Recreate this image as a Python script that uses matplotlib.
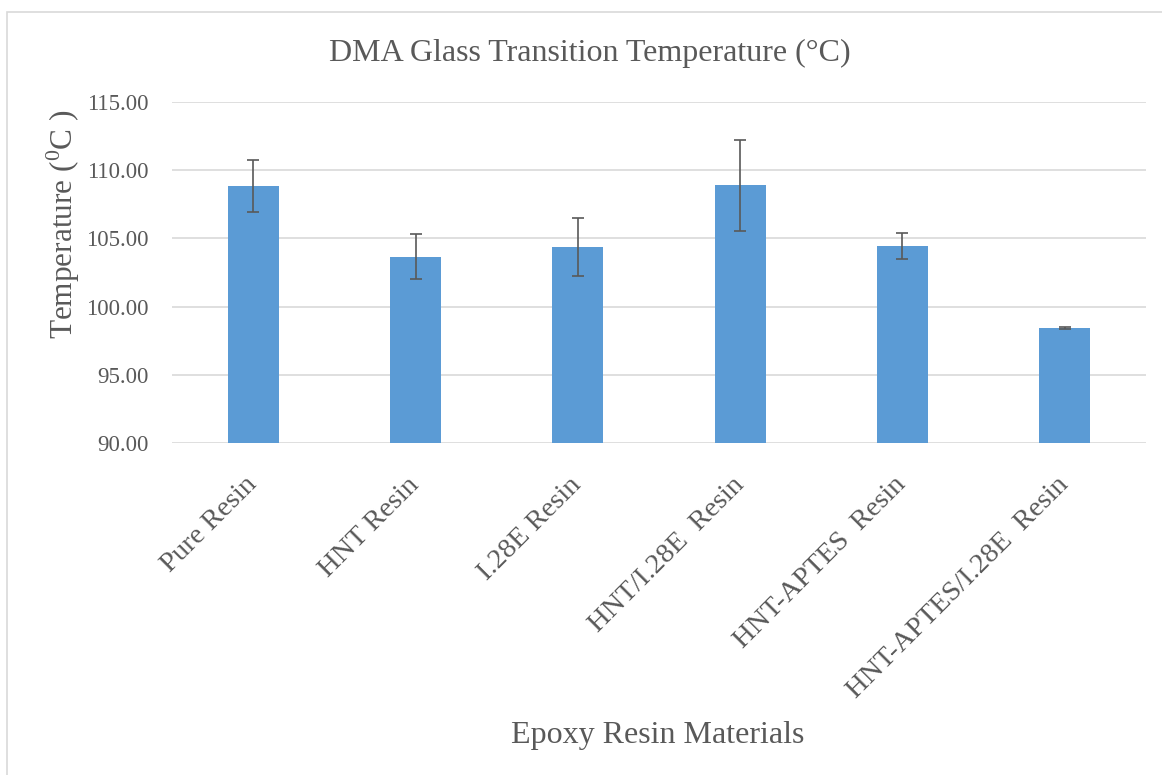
import matplotlib
matplotlib.use("Agg")
import matplotlib.pyplot as plt
from matplotlib.patches import Rectangle
from matplotlib.transforms import ScaledTranslation

categories = ["Pure Resin", "HNT Resin", "I.28E Resin", "HNT/I.28E  Resin",
              "HNT-APTES  Resin", "HNT-APTES/I.28E  Resin"]
tg_values = [108.83, 103.66, 104.37, 108.91, 104.43, 98.42]
tg_errors = [1.92, 1.64, 2.12, 3.34, 0.95, 0.07]
y_ticks = [90, 95, 100, 105, 110, 115]

plt.rcParams["font.family"] = ["Liberation Serif", "DejaVu Serif"]
plt.rcParams["mathtext.fontset"] = "custom"
plt.rcParams["mathtext.rm"] = "Liberation Serif"

W, H = 1162, 775
fig = plt.figure(figsize=(W / 100, H / 100), dpi=100)
fig.patch.set_facecolor("white")

# chart frame
fig.patches.append(Rectangle((7 / W, -0.1), 1.2, 1 - 12 / H + 0.1,
                             transform=fig.transFigure, fill=False,
                             edgecolor="#d9d9d9", linewidth=1.2))

left, right, top, bottom = 172, 1146, 102, 443
ax = fig.add_axes([left / W, 1 - bottom / H, (right - left) / W, (bottom - top) / H])

text_color = "#595959"
x = list(range(len(categories)))
ax.bar(x, tg_values, width=0.315, color="#5B9BD5", zorder=3)
ax.errorbar(x, tg_values, yerr=tg_errors, fmt="none", ecolor="#595959",
            elinewidth=1.2, capsize=4.5, capthick=1.2, zorder=4)

ax.set_xlim(-0.5, len(categories) - 0.5)
ax.set_ylim(90, 115)
ax.set_yticks(y_ticks)
ax.set_yticklabels([f"{v:.2f}" for v in y_ticks], fontsize=16.5, color=text_color)
ax.yaxis.grid(True, color="#d9d9d9", linewidth=1.2, zorder=0)
ax.set_axisbelow(True)
for s in ax.spines.values():
    s.set_visible(False)
ax.tick_params(axis="x", length=0, pad=21)
ax.tick_params(axis="y", length=0, pad=17)

ax.set_xticks(x)
ax.set_xticklabels(categories, rotation=45, ha="right", va="top",
                   rotation_mode="anchor", fontsize=20.5, color=text_color)
shift = ScaledTranslation(-9 / 100, 0, fig.dpi_scale_trans)
for lbl in ax.get_xticklabels():
    lbl.set_transform(lbl.get_transform() + shift)

fig.text(590 / W, 1 - 53 / H,
         "DMA Glass Transition Temperature (\u00b0C)",
         ha="center", va="center", fontsize=23, color=text_color)
fig.text(658 / W, 1 - 735 / H, "Epoxy Resin Materials",
         ha="center", va="center", fontsize=23, color=text_color)
fig.text(63 / W, 1 - 224 / H, r"Temperature ($^{0}$C )", rotation=90,
         ha="center", va="center", fontsize=22.5, color=text_color)

fig.savefig("out.png", dpi=100, facecolor="white")
